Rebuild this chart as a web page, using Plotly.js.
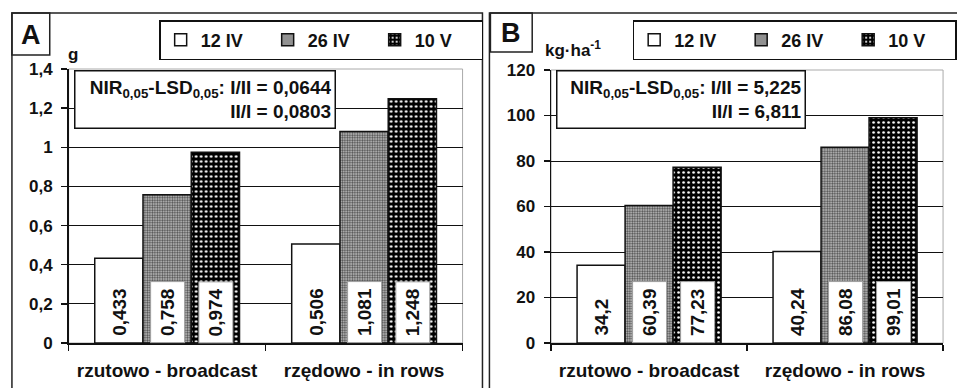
<!DOCTYPE html>
<html>
<head>
<meta charset="utf-8">
<script src="https://cdn.plot.ly/plotly-3.0.1.min.js"></script>
<style>html,body{margin:0;padding:0;background:#fff;overflow:hidden}#chart{width:957px;height:388px}</style>
</head>
<body>
<div id="chart"></div>
<script>
// ---- data ----
const categories = ['rzutowo - broadcast', 'rzędowo - in rows'];
const seriesNames = ['12 IV', '26 IV', '10 V'];
const massA_12IV = [0.433, 0.506];
const massA_26IV = [0.758, 1.081];
const massA_10V  = [0.974, 1.248];
const yieldB_12IV = [34.2, 40.24];
const yieldB_26IV = [60.39, 86.08];
const yieldB_10V  = [77.23, 99.01];
const yTicksA = [0, 0.2, 0.4, 0.6, 0.8, 1, 1.2, 1.4];
const yTicksB = [0, 20, 40, 60, 80, 100, 120];
const lsdA = ['0,0644', '0,0803'];
const lsdB = ['5,225', '6,811'];
const unitA = 'g';
const unitB = 'kg·ha<sup>-1</sup>';

// ---- styling ----
const FONT = 'Liberation Sans, Arial, sans-serif';
const W = 957, H = 388;
const px = v => v / W;
const py = v => 1 - v / H;
const bargap = 0.265;
const fmt = v => String(v).replace('.', ',');

const markers = [
  {color: 'white', line: {color: '#111', width: 1.5}},
  {color: '#a0a0a0', line: {color: '#111', width: 1.5},
   pattern: {shape: '.', fgcolor: '#4a4a4a', bgcolor: '#c8c8c8', size: 2.5, solidity: 0.5}},
  {color: 'black', line: {color: '#111', width: 1.5},
   pattern: {shape: '.', fgcolor: 'white', bgcolor: 'black', size: 5, solidity: 0.22}}
];

const panelA = [massA_12IV, massA_26IV, massA_10V];
const panelB = [yieldB_12IV, yieldB_26IV, yieldB_10V];

const traces = [];
panelA.forEach((vals, i) => traces.push({
  type: 'bar', x: categories, y: vals, name: seriesNames[i],
  xaxis: 'x', yaxis: 'y', legend: 'legend', marker: markers[i], hoverinfo: 'skip'
}));
panelB.forEach((vals, i) => traces.push({
  type: 'bar', x: categories, y: vals, name: seriesNames[i],
  xaxis: 'x2', yaxis: 'y2', legend: 'legend2', marker: markers[i], hoverinfo: 'skip'
}));

const annotations = [];
const bw = (1 - bargap) / 3;
function valueLabels(panel, xref, yref) {
  panel.forEach((vals, s) => {
    vals.forEach((v, c) => {
      annotations.push({
        xref: xref, yref: yref, x: c + (s - 1) * bw, y: 0,
        xanchor: 'center', yanchor: 'bottom', text: fmt(v), textangle: -90,
        showarrow: false, font: {family: FONT, size: 19, weight: 'bold', color: '#111'},
        bgcolor: s > 0 ? 'white' : 'rgba(0,0,0,0)',
        bordercolor: s > 0 ? '#a0a0a0' : 'rgba(0,0,0,0)', borderwidth: 1, borderpad: 6
      });
    });
  });
}
valueLabels(panelA, 'x', 'y');
valueLabels(panelB, 'x2', 'y2');

function lsdBox(vals, x0, w) {
  annotations.push({
    xref: 'paper', yref: 'paper', x: px(x0), y: py(70), xanchor: 'left', yanchor: 'top',
    text: 'NIR<sub>0,05</sub>-LSD<sub>0,05</sub>: I/II = ' + vals[0] + '<br>II/I = ' + vals[1],
    align: 'right', valign: 'middle', width: w, height: 50, showarrow: false,
    font: {family: FONT, size: 19, weight: 'bold', color: '#111'},
    bgcolor: 'white', bordercolor: '#111', borderwidth: 1.5, borderpad: 3
  });
}
lsdBox(lsdA, 74, 253);
lsdBox(lsdB, 559, 241);

const labelFont = s => ({family: FONT, size: s, weight: 'bold', color: '#111'});
function paperText(x, y, text, size) {
  annotations.push({xref: 'paper', yref: 'paper', x: px(x), y: py(y), xanchor: 'center', yanchor: 'middle',
    text: text, showarrow: false, font: labelFont(size)});
}
paperText(73, 55, unitA, 17);
paperText(576, 49, unitB, 17);
paperText(31, 35, 'A', 27);
paperText(514, 33, 'B', 27);

const shapes = [
  {type: 'rect', xref: 'paper', yref: 'paper', x0: px(12), x1: px(485), y0: -0.05, y1: py(13), line: {color: '#222', width: 1.5}},
  {type: 'rect', xref: 'paper', yref: 'paper', x0: px(492), x1: 1.05, y0: -0.05, y1: py(13), line: {color: '#222', width: 1.5}},
  {type: 'rect', xref: 'paper', yref: 'paper', x0: px(12), x1: px(50), y0: py(55), y1: py(13), line: {color: '#222', width: 1.5}},
  {type: 'rect', xref: 'paper', yref: 'paper', x0: px(493), x1: px(535), y0: py(52), y1: py(13), line: {color: '#222', width: 1.5}},
  {type: 'rect', xref: 'x domain', yref: 'y domain', x0: 0, x1: 1, y0: 0, y1: 1, line: {color: '#aaa', width: 1}, layer: 'below'},
  {type: 'rect', xref: 'x2 domain', yref: 'y2 domain', x0: 0, x1: 1, y0: 0, y1: 1, line: {color: '#aaa', width: 1}, layer: 'below'}
];

const tickFont = labelFont(17);
const xFont = labelFont(19);
function xAxis(domain, anchor) {
  return {domain: domain, anchor: anchor, type: 'category', showline: true, linecolor: '#111', linewidth: 1.5,
    ticks: 'outside', tickson: 'boundaries', ticklen: 6, tickcolor: '#111', tickwidth: 1.5, tickangle: 0,
    tickfont: xFont, showgrid: false, ticklabelstandoff: 10, automargin: false, fixedrange: true};
}
function yAxis(domain, anchor, ticks, range) {
  return {domain: domain, anchor: anchor, range: range, tickvals: ticks, ticktext: ticks.map(fmt),
    showline: true, linecolor: '#111', linewidth: 1.5, ticks: 'outside', ticklen: 6, tickcolor: '#111', tickwidth: 1.5,
    showgrid: true, gridcolor: '#111', gridwidth: 1, zeroline: false, tickfont: tickFont,
    ticklabelstandoff: 5, automargin: false, fixedrange: true};
}
const legendBase = {orientation: 'h', xanchor: 'left', yanchor: 'top', bgcolor: 'white', bordercolor: '#111',
  borderwidth: 1.5, font: labelFont(18),
  entrywidth: 62, entrywidthmode: 'pixels', itemwidth: 30, traceorder: 'normal'};

const layout = {
  width: W, height: H, margin: {l: 0, r: 0, t: 0, b: 0}, paper_bgcolor: 'white', plot_bgcolor: 'white',
  separators: ', ', barmode: 'group', bargap: bargap, bargroupgap: 0, showlegend: true,
  xaxis: xAxis([px(69), px(465)], 'y'),
  yaxis: yAxis([1 - 343 / H, 1 - 69 / H], 'x', yTicksA, [0, 1.4]),
  xaxis2: xAxis([px(554), px(948)], 'y2'),
  yaxis2: yAxis([1 - 343 / H, 1 - 70 / H], 'x2', yTicksB, [0, 120]),
  legend: Object.assign({}, legendBase, {x: px(160), y: py(20)}),
  legend2: Object.assign({}, legendBase, {x: px(636), y: py(20)}),
  annotations: annotations, shapes: shapes
};
Plotly.newPlot('chart', traces, layout, {displayModeBar: false, staticPlot: true});
</script>
</body>
</html>
